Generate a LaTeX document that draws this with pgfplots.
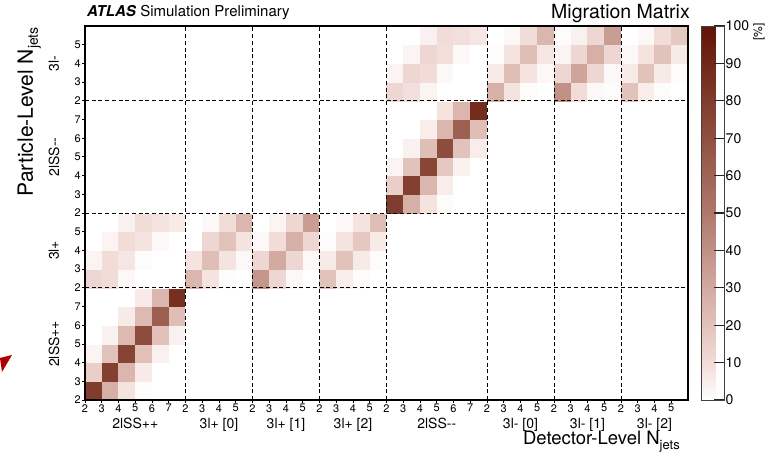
\documentclass[border=0pt]{standalone}
\usepackage{fontspec}
\setmainfont{TeX Gyre Heros}
\usepackage{pgfplots}
\pgfplotsset{compat=1.18}

\pgfplotsset{
  colormap={migr}{rgb255(0pt)=(255,255,255); rgb255(10pt)=(241,220,215); rgb255(25pt)=(219,182,174); rgb255(50pt)=(176,120,107); rgb255(75pt)=(136,70,54); rgb255(100pt)=(98,20,5)},
}

\begin{document}
\begin{tikzpicture}
\useasboundingbox (-85pt,-66pt) rectangle (681pt,400pt);
\begin{axis}[
  at={(0pt,0pt)}, anchor=south west,
  scale only axis, width=603pt, height=374pt,
  xmin=-0.5, xmax=35.5, ymin=-0.5, ymax=19.5,
  axis on top, clip=false,
  colormap name=migr,
  point meta min=0, point meta max=100,
  /pgf/number format/assume math mode=true,
  xtick={-0.5,0.5,...,34.5},
  xticklabels={2,3,4,5,6,7,2,3,4,5,2,3,4,5,2,3,4,5,2,3,4,5,6,7,2,3,4,5,2,3,4,5,2,3,4,5},
  ytick={-0.5,0.5,...,18.5},
  yticklabels={2,3,4,5,6,7,2,3,4,5,2,3,4,5,6,7,2,3,4,5},
  tick pos=left, tick align=outside, major tick length=3pt,
  tick style={black, line width=0.8pt},
  xticklabel style={font=\fontsize{11}{11}\selectfont, inner sep=1pt},
  yticklabel style={font=\fontsize{11}{11}\selectfont, inner sep=1pt},
  axis line style={black, line width=1.1pt},
  colorbar,
  colorbar style={
    at={(parent axis.north east)}, anchor=north west, xshift=5pt,
    scale only axis, width=23pt, height=374pt,
    ytick={0,10,...,100},
    ytick pos=right, yticklabel pos=right,
    tick align=inside, major tick length=11pt,
    tick style={black!85, line width=1.2pt},
    yticklabel style={font=\fontsize{14}{14}\selectfont, inner sep=1pt},
    axis line style={black!75, line width=0.8pt},
    /pgf/number format/assume math mode=true,
  },
]
% migration fractions [%]: x = detector-level bin, y = particle-level bin
\addplot[matrix plot*, mesh/cols=36, point meta=explicit] coordinates {
(0,0)[80] (1,0)[28] (2,0)[8] (3,0)[1] (4,0)[0] (5,0)[0] (6,0)[0] (7,0)[0] (8,0)[0] (9,0)[0] (10,0)[0] (11,0)[0] (12,0)[0] (13,0)[0] (14,0)[0] (15,0)[0] (16,0)[0] (17,0)[0] (18,0)[0] (19,0)[0] (20,0)[0] (21,0)[0] (22,0)[0] (23,0)[0] (24,0)[0] (25,0)[0] (26,0)[0] (27,0)[0] (28,0)[0] (29,0)[0] (30,0)[0] (31,0)[0] (32,0)[0] (33,0)[0] (34,0)[0] (35,0)[0]
(0,1)[15] (1,1)[78] (2,1)[25] (3,1)[6] (4,1)[0] (5,1)[0] (6,1)[0] (7,1)[0] (8,1)[0] (9,1)[0] (10,1)[0] (11,1)[0] (12,1)[0] (13,1)[0] (14,1)[0] (15,1)[0] (16,1)[0] (17,1)[0] (18,1)[0] (19,1)[0] (20,1)[0] (21,1)[0] (22,1)[0] (23,1)[0] (24,1)[0] (25,1)[0] (26,1)[0] (27,1)[0] (28,1)[0] (29,1)[0] (30,1)[0] (31,1)[0] (32,1)[0] (33,1)[0] (34,1)[0] (35,1)[0]
(0,2)[3] (1,2)[20] (2,2)[76] (3,2)[21] (4,2)[4] (5,2)[0] (6,2)[0] (7,2)[0] (8,2)[0] (9,2)[0] (10,2)[0] (11,2)[0] (12,2)[0] (13,2)[0] (14,2)[0] (15,2)[0] (16,2)[0] (17,2)[0] (18,2)[0] (19,2)[0] (20,2)[0] (21,2)[0] (22,2)[0] (23,2)[0] (24,2)[0] (25,2)[0] (26,2)[0] (27,2)[0] (28,2)[0] (29,2)[0] (30,2)[0] (31,2)[0] (32,2)[0] (33,2)[0] (34,2)[0] (35,2)[0]
(0,3)[0] (1,3)[4] (2,3)[24] (3,3)[72] (4,3)[21] (5,3)[4] (6,3)[0] (7,3)[0] (8,3)[0] (9,3)[0] (10,3)[0] (11,3)[0] (12,3)[0] (13,3)[0] (14,3)[0] (15,3)[0] (16,3)[0] (17,3)[0] (18,3)[0] (19,3)[0] (20,3)[0] (21,3)[0] (22,3)[0] (23,3)[0] (24,3)[0] (25,3)[0] (26,3)[0] (27,3)[0] (28,3)[0] (29,3)[0] (30,3)[0] (31,3)[0] (32,3)[0] (33,3)[0] (34,3)[0] (35,3)[0]
(0,4)[0] (1,4)[0] (2,4)[6] (3,4)[24] (4,4)[63] (5,4)[22] (6,4)[0] (7,4)[0] (8,4)[0] (9,4)[0] (10,4)[0] (11,4)[0] (12,4)[0] (13,4)[0] (14,4)[0] (15,4)[0] (16,4)[0] (17,4)[0] (18,4)[0] (19,4)[0] (20,4)[0] (21,4)[0] (22,4)[0] (23,4)[0] (24,4)[0] (25,4)[0] (26,4)[0] (27,4)[0] (28,4)[0] (29,4)[0] (30,4)[0] (31,4)[0] (32,4)[0] (33,4)[0] (34,4)[0] (35,4)[0]
(0,5)[0] (1,5)[0] (2,5)[0] (3,5)[6] (4,5)[25] (5,5)[86] (6,5)[0] (7,5)[0] (8,5)[0] (9,5)[0] (10,5)[0] (11,5)[0] (12,5)[0] (13,5)[0] (14,5)[0] (15,5)[0] (16,5)[0] (17,5)[0] (18,5)[0] (19,5)[0] (20,5)[0] (21,5)[0] (22,5)[0] (23,5)[0] (24,5)[0] (25,5)[0] (26,5)[0] (27,5)[0] (28,5)[0] (29,5)[0] (30,5)[0] (31,5)[0] (32,5)[0] (33,5)[0] (34,5)[0] (35,5)[0]
(0,6)[12] (1,6)[10] (2,6)[2] (3,6)[0] (4,6)[0] (5,6)[0] (6,6)[25] (7,6)[8] (8,6)[1] (9,6)[0] (10,6)[38] (11,6)[12] (12,6)[2] (13,6)[0] (14,6)[20] (15,6)[5] (16,6)[1] (17,6)[0] (18,6)[0] (19,6)[0] (20,6)[0] (21,6)[0] (22,6)[0] (23,6)[0] (24,6)[0] (25,6)[0] (26,6)[0] (27,6)[0] (28,6)[0] (29,6)[0] (30,6)[0] (31,6)[0] (32,6)[0] (33,6)[0] (34,6)[0] (35,6)[0]
(0,7)[3] (1,7)[10] (2,7)[7] (3,7)[1] (4,7)[0] (5,7)[0] (6,7)[8] (7,7)[22] (8,7)[8] (9,7)[2] (10,7)[12] (11,7)[30] (12,7)[12] (13,7)[2] (14,7)[6] (15,7)[20] (16,7)[6] (17,7)[1] (18,7)[0] (19,7)[0] (20,7)[0] (21,7)[0] (22,7)[0] (23,7)[0] (24,7)[0] (25,7)[0] (26,7)[0] (27,7)[0] (28,7)[0] (29,7)[0] (30,7)[0] (31,7)[0] (32,7)[0] (33,7)[0] (34,7)[0] (35,7)[0]
(0,8)[0] (1,8)[3] (2,8)[10] (3,8)[8] (4,8)[2] (5,8)[0] (6,8)[0] (7,8)[12] (8,8)[20] (9,8)[8] (10,8)[2] (11,8)[10] (12,8)[28] (13,8)[12] (14,8)[1] (15,8)[8] (16,8)[18] (17,8)[6] (18,8)[0] (19,8)[0] (20,8)[0] (21,8)[0] (22,8)[0] (23,8)[0] (24,8)[0] (25,8)[0] (26,8)[0] (27,8)[0] (28,8)[0] (29,8)[0] (30,8)[0] (31,8)[0] (32,8)[0] (33,8)[0] (34,8)[0] (35,8)[0]
(0,9)[0] (1,9)[0] (2,9)[4] (3,9)[10] (4,9)[8] (5,9)[6] (6,9)[0] (7,9)[2] (8,9)[10] (9,9)[25] (10,9)[0] (11,9)[3] (12,9)[12] (13,9)[35] (14,9)[0] (15,9)[2] (16,9)[8] (17,9)[22] (18,9)[0] (19,9)[0] (20,9)[0] (21,9)[0] (22,9)[0] (23,9)[0] (24,9)[0] (25,9)[0] (26,9)[0] (27,9)[0] (28,9)[0] (29,9)[0] (30,9)[0] (31,9)[0] (32,9)[0] (33,9)[0] (34,9)[0] (35,9)[0]
(0,10)[0] (1,10)[0] (2,10)[0] (3,10)[0] (4,10)[0] (5,10)[0] (6,10)[0] (7,10)[0] (8,10)[0] (9,10)[0] (10,10)[0] (11,10)[0] (12,10)[0] (13,10)[0] (14,10)[0] (15,10)[0] (16,10)[0] (17,10)[0] (18,10)[80] (19,10)[28] (20,10)[8] (21,10)[1] (22,10)[0] (23,10)[0] (24,10)[0] (25,10)[0] (26,10)[0] (27,10)[0] (28,10)[0] (29,10)[0] (30,10)[0] (31,10)[0] (32,10)[0] (33,10)[0] (34,10)[0] (35,10)[0]
(0,11)[0] (1,11)[0] (2,11)[0] (3,11)[0] (4,11)[0] (5,11)[0] (6,11)[0] (7,11)[0] (8,11)[0] (9,11)[0] (10,11)[0] (11,11)[0] (12,11)[0] (13,11)[0] (14,11)[0] (15,11)[0] (16,11)[0] (17,11)[0] (18,11)[15] (19,11)[78] (20,11)[25] (21,11)[5] (22,11)[0] (23,11)[0] (24,11)[0] (25,11)[0] (26,11)[0] (27,11)[0] (28,11)[0] (29,11)[0] (30,11)[0] (31,11)[0] (32,11)[0] (33,11)[0] (34,11)[0] (35,11)[0]
(0,12)[0] (1,12)[0] (2,12)[0] (3,12)[0] (4,12)[0] (5,12)[0] (6,12)[0] (7,12)[0] (8,12)[0] (9,12)[0] (10,12)[0] (11,12)[0] (12,12)[0] (13,12)[0] (14,12)[0] (15,12)[0] (16,12)[0] (17,12)[0] (18,12)[3] (19,12)[20] (20,12)[75] (21,12)[18] (22,12)[4] (23,12)[0] (24,12)[0] (25,12)[0] (26,12)[0] (27,12)[0] (28,12)[0] (29,12)[0] (30,12)[0] (31,12)[0] (32,12)[0] (33,12)[0] (34,12)[0] (35,12)[0]
(0,13)[0] (1,13)[0] (2,13)[0] (3,13)[0] (4,13)[0] (5,13)[0] (6,13)[0] (7,13)[0] (8,13)[0] (9,13)[0] (10,13)[0] (11,13)[0] (12,13)[0] (13,13)[0] (14,13)[0] (15,13)[0] (16,13)[0] (17,13)[0] (18,13)[0] (19,13)[4] (20,13)[22] (21,13)[72] (22,13)[20] (23,13)[5] (24,13)[0] (25,13)[0] (26,13)[0] (27,13)[0] (28,13)[0] (29,13)[0] (30,13)[0] (31,13)[0] (32,13)[0] (33,13)[0] (34,13)[0] (35,13)[0]
(0,14)[0] (1,14)[0] (2,14)[0] (3,14)[0] (4,14)[0] (5,14)[0] (6,14)[0] (7,14)[0] (8,14)[0] (9,14)[0] (10,14)[0] (11,14)[0] (12,14)[0] (13,14)[0] (14,14)[0] (15,14)[0] (16,14)[0] (17,14)[0] (18,14)[0] (19,14)[0] (20,14)[5] (21,14)[25] (22,14)[62] (23,14)[22] (24,14)[0] (25,14)[0] (26,14)[0] (27,14)[0] (28,14)[0] (29,14)[0] (30,14)[0] (31,14)[0] (32,14)[0] (33,14)[0] (34,14)[0] (35,14)[0]
(0,15)[0] (1,15)[0] (2,15)[0] (3,15)[0] (4,15)[0] (5,15)[0] (6,15)[0] (7,15)[0] (8,15)[0] (9,15)[0] (10,15)[0] (11,15)[0] (12,15)[0] (13,15)[0] (14,15)[0] (15,15)[0] (16,15)[0] (17,15)[0] (18,15)[0] (19,15)[0] (20,15)[0] (21,15)[8] (22,15)[25] (23,15)[88] (24,15)[0] (25,15)[0] (26,15)[0] (27,15)[0] (28,15)[0] (29,15)[0] (30,15)[0] (31,15)[0] (32,15)[0] (33,15)[0] (34,15)[0] (35,15)[0]
(0,16)[0] (1,16)[0] (2,16)[0] (3,16)[0] (4,16)[0] (5,16)[0] (6,16)[0] (7,16)[0] (8,16)[0] (9,16)[0] (10,16)[0] (11,16)[0] (12,16)[0] (13,16)[0] (14,16)[0] (15,16)[0] (16,16)[0] (17,16)[0] (18,16)[12] (19,16)[9] (20,16)[3] (21,16)[0] (22,16)[0] (23,16)[0] (24,16)[27] (25,16)[8] (26,16)[1] (27,16)[0] (28,16)[40] (29,16)[10] (30,16)[2] (31,16)[1] (32,16)[20] (33,16)[5] (34,16)[1] (35,16)[0]
(0,17)[0] (1,17)[0] (2,17)[0] (3,17)[0] (4,17)[0] (5,17)[0] (6,17)[0] (7,17)[0] (8,17)[0] (9,17)[0] (10,17)[0] (11,17)[0] (12,17)[0] (13,17)[0] (14,17)[0] (15,17)[0] (16,17)[0] (17,17)[0] (18,17)[3] (19,17)[12] (20,17)[10] (21,17)[2] (22,17)[0] (23,17)[0] (24,17)[6] (25,17)[22] (26,17)[8] (27,17)[2] (28,17)[12] (29,17)[32] (30,17)[12] (31,17)[2] (32,17)[6] (33,17)[20] (34,17)[6] (35,17)[1]
(0,18)[0] (1,18)[0] (2,18)[0] (3,18)[0] (4,18)[0] (5,18)[0] (6,18)[0] (7,18)[0] (8,18)[0] (9,18)[0] (10,18)[0] (11,18)[0] (12,18)[0] (13,18)[0] (14,18)[0] (15,18)[0] (16,18)[0] (17,18)[0] (18,18)[0] (19,18)[3] (20,18)[12] (21,18)[9] (22,18)[2] (23,18)[0] (24,18)[1] (25,18)[8] (26,18)[22] (27,18)[7] (28,18)[3] (29,18)[12] (30,18)[28] (31,18)[12] (32,18)[2] (33,18)[8] (34,18)[20] (35,18)[6]
(0,19)[0] (1,19)[0] (2,19)[0] (3,19)[0] (4,19)[0] (5,19)[0] (6,19)[0] (7,19)[0] (8,19)[0] (9,19)[0] (10,19)[0] (11,19)[0] (12,19)[0] (13,19)[0] (14,19)[0] (15,19)[0] (16,19)[0] (17,19)[0] (18,19)[0] (19,19)[0] (20,19)[4] (21,19)[10] (22,19)[9] (23,19)[7] (24,19)[0] (25,19)[2] (26,19)[10] (27,19)[25] (28,19)[1] (29,19)[4] (30,19)[12] (31,19)[35] (32,19)[0] (33,19)[2] (34,19)[10] (35,19)[18]
};
% channel separators
\pgfplotsinvokeforeach{5.5,9.5,13.5,17.5,23.5,27.5,31.5}{
  \draw[black, line width=0.9pt, dash pattern=on 4pt off 2.7pt] (axis cs:#1,-0.5) -- (axis cs:#1,19.5);
}
\pgfplotsinvokeforeach{5.5,9.5,15.5}{
  \draw[black, line width=0.9pt, dash pattern=on 4pt off 2.7pt] (axis cs:-0.5,#1) -- (axis cs:35.5,#1);
}
\end{axis}

% titles
\node[anchor=base west, inner sep=0, font=\fontsize{15}{15}\selectfont] at (2pt,383pt) {\textbf{\textit{ATLAS}} Simulation Preliminary};
\node[anchor=base east, inner sep=0, font=\fontsize{19.5}{20}\selectfont] at (605pt,381.5pt) {Migration Matrix};
\node[anchor=east, rotate=90, inner sep=0, font=\fontsize{12}{12}\selectfont] at (674pt,377pt) {[\%]};

% axis titles
\node[rotate=90, anchor=base east, inner sep=0, font=\fontsize{21}{21}\selectfont] at (-52pt,373pt) {Particle-Level N\raisebox{-5pt}{\fontsize{14}{14}\selectfont jets}};
\node[anchor=base east, inner sep=0, font=\fontsize{18.5}{19}\selectfont] at (595pt,-44pt) {Detector-Level N\raisebox{-5pt}{\fontsize{13}{13}\selectfont jets}};

% particle-level channel names
\begin{scope}[every node/.style={rotate=90, inner sep=0, font=\fontsize{14}{14}\selectfont}]
\node at (-31pt,56.1pt) {2lSS++};
\node at (-31pt,149.6pt) {3l+};
\node at (-31pt,243.1pt) {2lSS-{}-};
\node at (-31pt,336.6pt) {3l-};
\end{scope}

% detector-level channel names
\begin{scope}[every node/.style={anchor=base, inner sep=0, font=\fontsize{14}{14}\selectfont}]
\node at (50.25pt,-28pt) {2lSS++};
\node at (134pt,-28pt) {3l+ [0]};
\node at (201pt,-28pt) {3l+ [1]};
\node at (268pt,-28pt) {3l+ [2]};
\node at (351.75pt,-28pt) {2lSS-{}-};
\node at (435.5pt,-28pt) {3l- [0]};
\node at (502.5pt,-28pt) {3l- [1]};
\node at (569.5pt,-28pt) {3l- [2]};
\end{scope}

\fill[red!70!black] (-85pt,42pt) -- (-73pt,45pt) -- (-83pt,28pt) -- cycle;
\end{tikzpicture}
\end{document}
